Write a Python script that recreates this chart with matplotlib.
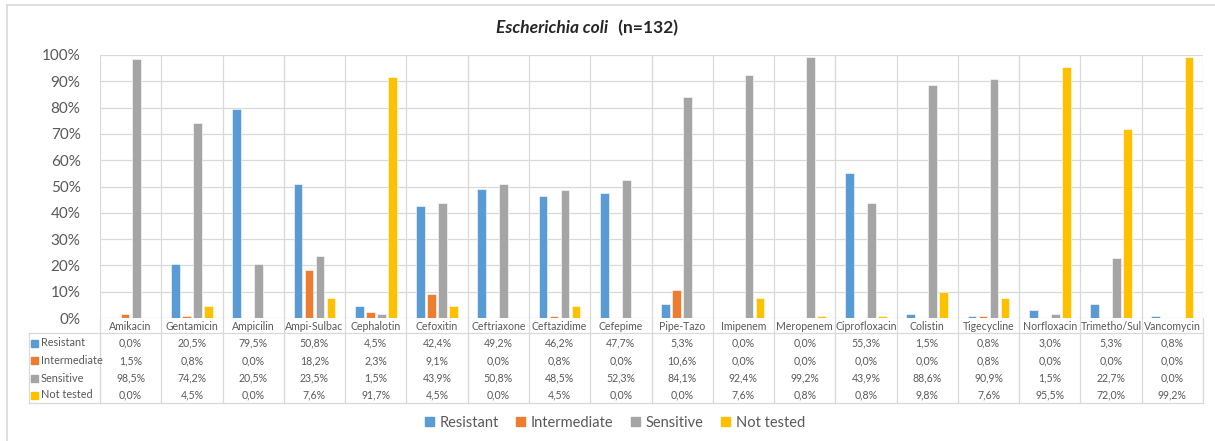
import matplotlib.pyplot as plt
import matplotlib.transforms as mtransforms
from matplotlib.lines import Line2D
from matplotlib.patches import Rectangle

plt.rcParams['font.family'] = ['Lato', 'DejaVu Sans']

# antibiotics tested
drugs = ["Amikacin", "Gentamicin", "Ampicilin", "Ampi-Sulbac", "Cephalotin",
         "Cefoxitin", "Ceftriaxone", "Ceftazidime", "Cefepime", "Pipe-Tazo",
         "Imipenem", "Meropenem", "Ciprofloxacin", "Colistin", "Tigecycline",
         "Norfloxacin", "Trimetho/Sul", "Vancomycin"]

# percentages per outcome
resistant = [0.0, 20.5, 79.5, 50.8, 4.5, 42.4, 49.2, 46.2, 47.7, 5.3,
             0.0, 0.0, 55.3, 1.5, 0.8, 3.0, 5.3, 0.8]
intermediate = [1.5, 0.8, 0.0, 18.2, 2.3, 9.1, 0.0, 0.8, 0.0, 10.6,
                0.0, 0.0, 0.0, 0.0, 0.8, 0.0, 0.0, 0.0]
sensitive = [98.5, 74.2, 20.5, 23.5, 1.5, 43.9, 50.8, 48.5, 52.3, 84.1,
             92.4, 99.2, 43.9, 88.6, 90.9, 1.5, 22.7, 0.0]
not_tested = [0.0, 4.5, 0.0, 7.6, 91.7, 4.5, 0.0, 4.5, 0.0, 0.0,
              7.6, 0.8, 0.8, 9.8, 7.6, 95.5, 72.0, 99.2]

series = [("Resistant", resistant, "#5B9BD5"),
          ("Intermediate", intermediate, "#ED7D31"),
          ("Sensitive", sensitive, "#A5A5A5"),
          ("Not tested", not_tested, "#FFC000")]

W, H = 1215, 441
grid = "#D9D9D9"
txt = "#595959"

fig = plt.figure(figsize=(W / 100, H / 100), dpi=100)
ax = fig.add_axes([100 / W, 1 - 318 / H, 1103 / W, 263 / H])

n = len(drugs)
x = list(range(n))
bw = 0.142
step = 0.18
for k, (name, vals, col) in enumerate(series):
    ax.bar([i + (k - 1.5) * step for i in x], [v / 100 for v in vals], bw,
           color=col, edgecolor="white", linewidth=0.4, zorder=3, label=name)

ax.set_xlim(-0.5, n - 0.5)
ax.set_ylim(0, 1)
ax.set_yticks([i / 10 for i in range(11)])
ax.set_yticklabels(["%d%%" % (i * 10) for i in range(11)], fontsize=11, color=txt)
ax.tick_params(axis="y", length=0, pad=14)
ax.set_xticks([])
for s in ax.spines.values():
    s.set_visible(False)
ax.grid(axis="y", color=grid, linewidth=0.9, zorder=0)
for i in range(n + 1):
    ax.axvline(i - 0.5, color=grid, linewidth=0.9, zorder=0)

# data table under the bars
blend = mtransforms.blended_transform_factory(ax.transData, fig.transFigure)
fy = lambda py: 1 - py / H

for i in range(n + 1):
    ax.add_line(Line2D([i - 0.5, i - 0.5], [fy(318), fy(403)], transform=blend,
                       color=grid, linewidth=0.9, clip_on=False))

for py in (333, 403):
    ax.add_line(Line2D([29 / W, (100 + 1103) / W], [fy(py), fy(py)],
                       transform=fig.transFigure, color=grid, linewidth=0.9, clip_on=False))
ax.add_line(Line2D([29 / W, 29 / W], [fy(333), fy(403)], transform=fig.transFigure,
                   color=grid, linewidth=0.9, clip_on=False))

for i, d in enumerate(drugs):
    ax.text(i, fy(326), d, transform=blend, ha="center", va="center",
            fontsize=7.6, color=txt)

row_y = [343, 360.5, 378, 395]
for (name, vals, col), py in zip(series, row_y):
    fig.add_artist(Rectangle((31 / W, fy(py) - 3.5 / H), 7 / W, 7 / H,
                             transform=fig.transFigure, color=col))
    fig.text(41 / W, fy(py), name, ha="left", va="center", fontsize=7.8, color=txt)
    for i, v in enumerate(vals):
        ax.text(i, fy(py), ("%.1f%%" % v).replace(".", ","), transform=blend,
                ha="center", va="center", fontsize=7.6, color=txt)

# chart title
fig.text(608 / W, fy(28), "Escherichia coli", ha="right", va="center",
         fontsize=12.5, fontweight="bold", style="italic", color="#262626")
fig.text(614 / W, fy(28), " (n=132)", ha="left", va="center",
         fontsize=12.5, fontweight="bold", color="#262626")

# outer chart border
fig.add_artist(Line2D([7 / W, 1], [fy(5), fy(5)], transform=fig.transFigure,
                      color=grid, linewidth=1.2))
fig.add_artist(Line2D([7 / W, 7 / W], [fy(5), 0], transform=fig.transFigure,
                      color=grid, linewidth=1.2))

handles = [Rectangle((0, 0), 1, 1, color=c) for _, _, c in series]
fig.legend(handles, [s[0] for s in series], loc="center", bbox_to_anchor=(615 / W, fy(423)),
           ncol=4, frameon=False, fontsize=10.5, handlelength=0.6, handleheight=0.6,
           handletextpad=0.4, columnspacing=1.2, labelcolor=txt)

fig.savefig("out.png", dpi=100)
